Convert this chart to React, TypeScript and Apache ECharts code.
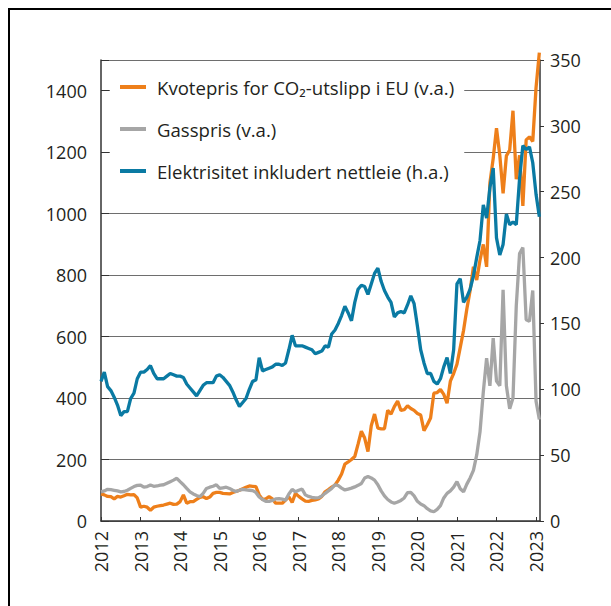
import React, { useEffect, useRef } from "react";
import * as echarts from "echarts";

const START_YEAR = 2012;
const yearTicks = [2012, 2013, 2014, 2015, 2016, 2017, 2018, 2019, 2020, 2021, 2022, 2023];
const seriesNames = [
  "Kvotepris for CO₂-utslipp i EU (v.a.)",
  "Gasspris (v.a.)",
  "Elektrisitet inkludert nettleie (h.a.)",
];

// Monthly values, Jan 2012 – Feb 2023
const kvotepris = [
  88, 85, 80, 79, 72, 80, 78, 82, 87, 85, 86, 75,
  45, 48, 45, 35, 45, 48, 50, 52, 55, 58, 54, 55,
  63, 85, 58, 63, 63, 70, 77, 79, 73, 78, 90, 93,
  93, 90, 89, 88, 93, 96, 100, 105, 110, 114, 113, 112,
  85, 70, 72, 79, 72, 58, 58, 58, 68, 79, 60, 90,
  80, 72, 65, 64, 67, 69, 72, 80, 95, 102, 110, 117,
  133, 153, 185, 192, 200, 210, 250, 292, 270, 226, 310, 348,
  302, 300, 300, 360, 348, 372, 390, 360, 362, 375, 366, 360,
  350, 345, 294, 313, 335, 416, 418, 428, 412, 383, 455, 480,
  510, 565, 620, 690, 750, 827, 784, 849, 900, 827, 1100, 1180,
  1278, 1190, 1066, 1188, 1207, 1335, 1112, 1190, 1025, 1240, 1250, 1235,
  1410, 1524,
];

const gasspris = [
  95, 98, 103, 102, 100, 98, 95, 96, 100, 106, 112, 116,
  117, 110, 112, 117, 113, 114, 117, 118, 123, 128, 133, 139,
  128, 118, 106, 95, 88, 83, 79, 90, 106, 110, 113, 118,
  106, 108, 110, 106, 100, 96, 100, 103, 101, 100, 99, 93,
  78, 70, 64, 64, 67, 72, 73, 71, 68, 88, 103, 95,
  100, 104, 85, 80, 77, 75, 76, 81, 90, 98, 106, 118,
  115, 107, 101, 104, 107, 111, 116, 122, 140, 145, 140, 133,
  118, 98, 82, 70, 62, 58, 62, 67, 75, 92, 93, 82,
  64, 55, 50, 40, 33, 30, 38, 50, 75, 90, 98, 110,
  128, 105, 95, 120, 140, 165, 215, 290, 420, 530, 440, 595,
  455, 440, 752, 440, 365, 400, 700, 870, 890, 655, 650, 750,
  390, 330,
];

const elektrisitet = [
  106, 113, 102, 99, 94, 88, 80, 83, 83, 93, 97, 108,
  113, 113, 115, 118, 112, 108, 108, 108, 110, 112, 111, 110,
  110, 109, 104, 101, 98, 95, 99, 103, 105, 105, 105, 110,
  111, 109, 106, 103, 98, 92, 87, 90, 93, 100, 106, 107,
  124, 114, 115, 116, 117, 119, 119, 118, 120, 130, 141, 133,
  133, 133, 132, 131, 130, 127, 128, 129, 133, 132, 142, 145,
  150, 156, 163, 158, 152, 166, 176, 179, 178, 172, 180, 188,
  192, 182, 175, 170, 166, 155, 158, 159, 158, 164, 171, 165,
  148, 130, 120, 112, 112, 106, 104, 108, 117, 124, 112, 130,
  180, 184, 166, 170, 176, 186, 200, 213, 240, 230, 253, 268,
  215, 202, 210, 233, 225, 227, 225, 260, 285, 282, 284, 272,
  248, 231,
];

const FONT = "'Open Sans', 'Noto Sans', sans-serif";
const TEXT = "#231f20";
const COLORS = ["#ee7f1a", "#a6a6a6", "#0a7aa3"];

export default function App() {
  const ref = useRef<HTMLDivElement>(null);
  useEffect(() => {
    document.body.style.margin = "0";
    const chart = echarts.init(ref.current!, null, { renderer: "svg" });
    const toPairs = (arr: number[]) => arr.map((v, i) => [START_YEAR + i / 12, v]);
    chart.setOption({
      animation: false,
      backgroundColor: "#fff",
      textStyle: { fontFamily: FONT },
      grid: { left: 101, right: 71, top: 60, bottom: 85, containLabel: false },
      graphic: [
        { type: "line", shape: { x1: 8, y1: 9, x2: 611, y2: 9 }, style: { stroke: "#000", lineWidth: 2 } },
        { type: "line", shape: { x1: 9, y1: 8, x2: 9, y2: 606 }, style: { stroke: "#000", lineWidth: 2 } },
      ],
      legend: {
        orient: "vertical",
        left: 110,
        top: 67,
        padding: [10, 10, 10, 10],
        backgroundColor: "#fff",
        itemWidth: 26,
        itemHeight: 4,
        itemGap: 22,
        icon: "rect",
        data: seriesNames,
        textStyle: { fontFamily: FONT, fontSize: 18.6, color: TEXT, padding: [0, 0, 0, 6], lineHeight: 20 },
      },
      xAxis: {
        type: "value",
        min: START_YEAR,
        max: 2023.1,
        interval: 1,
        axisLine: { show: true, lineStyle: { color: "#333", width: 1.5 } },
        axisTick: { show: true, inside: true, length: 4, lineStyle: { color: "#333" } },
        splitLine: { show: false },
        axisLabel: {
          rotate: 90,
          margin: 10,
          fontSize: 18,
          color: TEXT,
          fontFamily: FONT,
          showMaxLabel: false,
          formatter: (v: number) => (yearTicks.includes(v) ? String(v) : ""),
        },
      },
      yAxis: [
        {
          type: "value",
          min: 0,
          max: 1500,
          interval: 200,
          axisLine: { show: true, lineStyle: { color: "#333", width: 1.5 } },
          axisTick: { show: true, inside: true, length: 8, lineStyle: { color: "#333" } },
          splitLine: { show: true, lineStyle: { color: "#6e6e6e", width: 1 } },
          axisLabel: {
            margin: 14,
            fontSize: 18,
            color: TEXT,
            fontFamily: FONT,
            formatter: (v: number) => (v % 200 === 0 ? String(v) : ""),
          },
        },
        {
          type: "value",
          min: 0,
          max: 350,
          interval: 50,
          position: "right",
          axisLine: { show: true, lineStyle: { color: "#333", width: 1.5 } },
          axisTick: { show: true, inside: false, length: 4, lineStyle: { color: "#333" } },
          splitLine: { show: false },
          axisLabel: { margin: 10, fontSize: 18, color: TEXT, fontFamily: FONT },
        },
      ],
      series: [
        {
          name: seriesNames[0],
          type: "line",
          yAxisIndex: 0,
          data: toPairs(kvotepris),
          showSymbol: false,
          symbol: "none",
          clip: false,
          color: COLORS[0],
          lineStyle: { width: 3.3, color: COLORS[0] },
        },
        {
          name: seriesNames[1],
          type: "line",
          yAxisIndex: 0,
          data: toPairs(gasspris),
          showSymbol: false,
          symbol: "none",
          color: COLORS[1],
          lineStyle: { width: 3.3, color: COLORS[1] },
        },
        {
          name: seriesNames[2],
          type: "line",
          yAxisIndex: 1,
          data: toPairs(elektrisitet),
          showSymbol: false,
          symbol: "none",
          color: COLORS[2],
          lineStyle: { width: 3.3, color: COLORS[2] },
        },
      ],
    });
    return () => chart.dispose();
  }, []);
  return <div ref={ref} style={{ width: 611, height: 606 }} />;
}
